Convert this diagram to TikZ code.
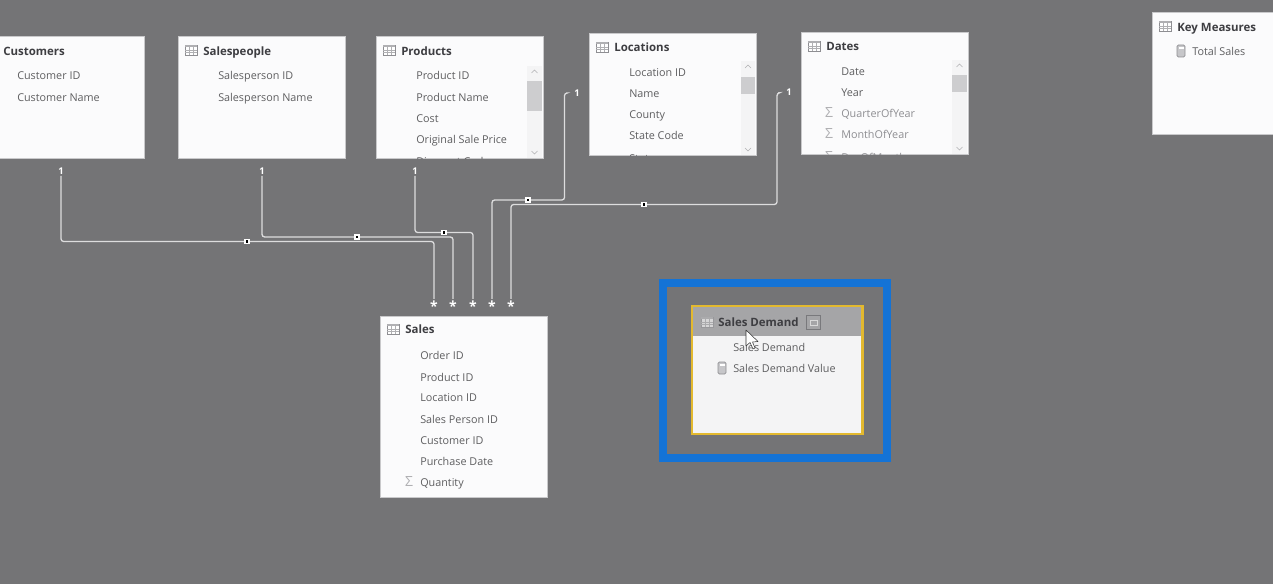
\documentclass[tikz,border=0pt]{standalone}
\usepackage{fontspec}
\usepackage{xcolor}
\setmainfont{Open Sans}
\usetikzlibrary{positioning,calc}
\definecolor{canvasgrey}{HTML}{747476}
\definecolor{cardwhite}{HTML}{FBFBFC}
\definecolor{cardedge}{HTML}{C9C9CB}
\definecolor{fieldgrey}{HTML}{5E5E60}
\definecolor{titlegrey}{HTML}{3E3E42}
\definecolor{icongrey}{HTML}{8E8E92}
\definecolor{scrollgrey}{HTML}{CDCDCF}
\definecolor{trackgrey}{HTML}{F4F4F5}
\definecolor{selectyellow}{HTML}{E3B92F}
\definecolor{headgrey}{HTML}{A5A5A7}
\definecolor{markblue}{HTML}{1473D6}
\definecolor{linegrey}{HTML}{DDDDDE}
\tikzset{
    card/.style={
        draw=cardedge,
        line width=0.6pt,
        fill=cardwhite,
        inner sep=0pt,
        outer sep=0pt,
        anchor=north west,
        minimum width=125.25pt,
        minimum height=92pt
    },
    tabletitle/.style={
        anchor=west,
        inner sep=0pt,
        yshift=-0.75pt,
        text height=7pt,
        text depth=2pt,
        font=\fontsize{8.6}{10}\selectfont\bfseries,
        text=titlegrey
    },
    fieldname/.style={
        anchor=west,
        inner sep=0pt,
        yshift=-0.75pt,
        text height=7pt,
        text depth=2pt,
        font=\fontsize{8.1}{10}\selectfont,
        text=fieldgrey
    },
    sigma/.style={
        inner sep=0pt,
        font=\fontsize{10.5}{10}\selectfont,
        text=icongrey!70
    },
    onelabel/.style={
        inner sep=1pt,
        font=\fontsize{7}{7}\selectfont\bfseries,
        text=white
    },
    manylabel/.style={
        inner sep=1.5pt,
        yshift=-1.8pt,
        font=\fontsize{10.5}{10.5}\selectfont\bfseries,
        text=white
    },
    relation/.style={
        draw=linegrey,
        line width=0.95pt,
        rounded corners=2pt
    },
    midmark/.style={
        draw=white,
        fill=black,
        line width=1pt,
        inner sep=0pt,
        minimum size=3pt
    },
    tableicon/.pic={
        \draw[icongrey, line width=0.5pt, fill=white] (-6,-5) rectangle (6,5);
        \fill[icongrey!70] (-6,-5) rectangle (6,-2.5);
        \foreach \gridx in {-2,2} {\draw[icongrey!70, line width=0.3pt] (\gridx,-2.5) -- (\gridx,5);}
        \foreach \gridy in {0,2.5} {\draw[icongrey!70, line width=0.3pt] (-6,\gridy) -- (6,\gridy);}
    },
    calcicon/.pic={
        \draw[icongrey, line width=0.5pt, fill=icongrey!50, rounded corners=1pt] (-4,-6) rectangle (4,6);
        \fill[white] (-2.5,-4) rectangle (2.5,-2);
    }
}
\newcommand{\scrollbar}[6]{
    \fill[trackgrey] (#1,#3) rectangle (#2,#4);
    \fill[scrollgrey] (#1,#5) rectangle (#2,#6);
    \draw[icongrey!70, line width=0.4pt] ({(#1+#2)/2-3},#3+7) -- ({(#1+#2)/2},#3+4) -- ({(#1+#2)/2+3},#3+7);
    \draw[icongrey!70, line width=0.4pt] ({(#1+#2)/2-3},#4-7) -- ({(#1+#2)/2},#4-4) -- ({(#1+#2)/2+3},#4-7);
}
\begin{document}
\begin{tikzpicture}[x=0.75pt,y=-0.75pt]
    \fill[canvasgrey] (0,0) rectangle (1273,584);
    \useasboundingbox (0,0) rectangle (1273,584);
    \clip (0,0) rectangle (1273,584);

    \node[card, minimum width=152.25pt] (customers) at (-59,36) {};
    \node[card] (salespeople) at (178,36) {};
    \node[card] (products) at (376,36) {};
    \node[card] (locations) at (589,33) {};
    \node[card] (dates) at (801,32) {};
    \node[card] (keymeasures) at (1152,12) {};
    \node[card, minimum height=135.75pt] (sales) at (380,316) {};

    \node[tabletitle] (customerstitle) at (3,51) {Customers};
    \foreach \field/\fieldy in {Customer ID/75, Customer Name/97}
        \node[fieldname] at (17,\fieldy) {\field};

    \pic at (191,50) {tableicon};
    \node[tabletitle] (salespeopletitle) at (203,51) {Salespeople};
    \foreach \field/\fieldy in {Salesperson ID/75, Salesperson Name/97}
        \node[fieldname] at (218,\fieldy) {\field};

    \pic at (389,50) {tableicon};
    \node[tabletitle] (productstitle) at (401,51) {Products};
    \scrollbar{527}{542}{66}{158}{81}{111}
    \begin{scope}
        \clip (products.south west) rectangle (products.north east);
        \foreach \field/\fieldy in {Product ID/75, Product Name/97, Cost/118, Original Sale Price/139, Discount Code/161}
            \node[fieldname] at (416,\fieldy) {\field};
    \end{scope}

    \pic at (602,47) {tableicon};
    \node[tabletitle] (locationstitle) at (614,47) {Locations};
    \scrollbar{741}{755}{61}{155}{77}{94}
    \begin{scope}
        \clip (locations.south west) rectangle (locations.north east);
        \foreach \field/\fieldy in {Location ID/72, Name/93, County/114, State Code/135, State/158}
            \node[fieldname] at (629,\fieldy) {\field};
    \end{scope}

    \pic at (814,46) {tableicon};
    \node[tabletitle] (datestitle) at (826,46) {Dates};
    \scrollbar{952}{967}{60}{154}{75}{92}
    \begin{scope}
        \clip (dates.south west) rectangle (dates.north east);
        \foreach \field/\fieldy in {Date/71, Year/92}
            \node[fieldname] at (841,\fieldy) {\field};
        \foreach \field/\fieldy in {QuarterOfYear/113, MonthOfYear/134, DayOfMonth/157} {
            \node[fieldname, text=icongrey] at (841,\fieldy) {\field};
            \node[sigma] at (829,\fieldy) {Σ};
        }
    \end{scope}

    \pic at (1165,26) {tableicon};
    \node[tabletitle] (keymeasurestitle) at (1177,27) {Key Measures};
    \pic at (1181,51) {calcicon};
    \node[fieldname] at (1192,51) {Total Sales};

    \pic at (393,329) {tableicon};
    \node[tabletitle] (salestitle) at (405,329) {Sales};
    \foreach \field/\fieldy in {Order ID/355, Product ID/377, Location ID/397, Sales Person ID/419, Customer ID/440, Purchase Date/461, Quantity/482}
        \node[fieldname] at (420,\fieldy) {\field};
    \node[sigma] at (409,482) {Σ};

    \node[onelabel] (one1) at (61,171) {1};
    \node[onelabel] (one2) at (262,171) {1};
    \node[onelabel] (one3) at (415,171) {1};
    \node[onelabel] (one4) at (577,93) {1};
    \node[onelabel] (one5) at (789,92) {1};

    \node[manylabel] (many1) at (434,304) {*};
    \node[manylabel] (many2) at (453,304) {*};
    \node[manylabel] (many3) at (473,304) {*};
    \node[manylabel] (many4) at (492,304) {*};
    \node[manylabel] (many5) at (511,304) {*};

    \coordinate (turn4) at (564.5,93);
    \coordinate (turn5) at (777,93);

    \coordinate (mid1) at (247,241.5);
    \coordinate (mid2) at (357,237);
    \coordinate (mid3) at (444,232.5);
    \coordinate (mid4) at (528,200);
    \coordinate (mid5) at (644,204.5);

    \draw[relation] (one1) |- (mid1) -| (many1);
    \draw[relation] (one2) |- (mid2) -| (many2);
    \draw[relation] (one3) |- (mid3) -| (many3);
    \draw[relation, shorten >=5pt] (many4) |- (mid4) -| (turn4) -- (one4);
    \draw[relation, shorten >=5pt] (many5) |- (mid5) -| (turn5) -- (one5);

    \node[midmark] at (mid1) {};
    \node[midmark] at (mid2) {};
    \node[midmark] at (mid3) {};
    \node[midmark] at (mid4) {};
    \node[midmark] at (mid5) {};

    \node[draw=markblue, line width=6pt, anchor=north west, inner sep=0pt, minimum width=168pt, minimum height=131.25pt] (highlight) at (659,279) {};
    \node[draw=selectyellow, line width=2pt, fill=trackgrey, anchor=north west, inner sep=0pt, outer sep=0pt, minimum width=128pt, minimum height=96pt] (salesdemand) at (692,306) {};
    \fill[headgrey] (692,306) rectangle (863,336);
    \draw[selectyellow, line width=2pt] (salesdemand.north west) rectangle (salesdemand.south east);
    \pic at (707,322) {tableicon};
    \fill[headgrey, opacity=0.45] (700,316) rectangle (714,328);
    \node[tabletitle] (salesdemandtitle) at (718,322) {Sales Demand};
    \draw[icongrey!85!black, line width=0.5pt] (806,315) rectangle (820,329);
    \draw[white!85!black, line width=0.6pt] (810,320) rectangle (817,325);
    \node[fieldname] at (733,347) {Sales Demand};
    \pic at (722,368) {calcicon};
    \node[fieldname] at (733,368) {Sales Demand Value};
    \draw[black!80, fill=white, line width=0.4pt, line join=round] (746,330) -- (746,346) -- (750,342.5) -- (753,349) -- (755,348) -- (752.5,342) -- (758,341.5) -- cycle;
\end{tikzpicture}
\end{document}
